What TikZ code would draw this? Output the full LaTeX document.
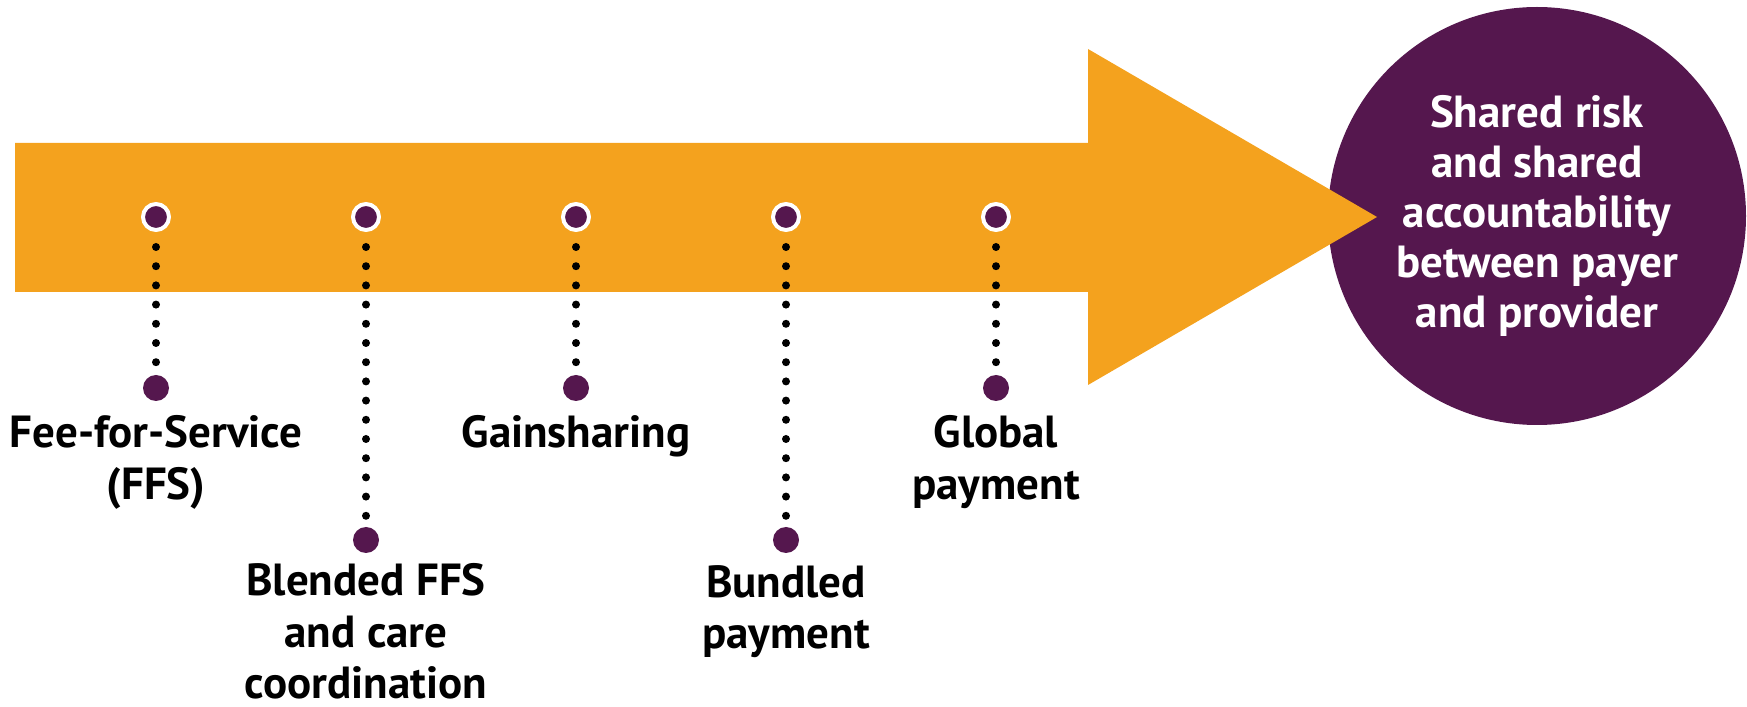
\documentclass[tikz,border=0pt]{standalone}
\usepackage{fontspec}
\setmainfont{PT Sans}
\usetikzlibrary{positioning}
\definecolor{arroworange}{RGB}{244,162,30}
\definecolor{plum}{RGB}{85,23,78}
\begin{document}
\begin{tikzpicture}[x=.1mm,y=-.1mm,line join=round,
  topdot/.style={circle,fill=plum,draw=white,line width=.4mm,minimum size=2.6mm,inner sep=0,outer sep=0},
  enddot/.style={circle,fill=plum,minimum size=2.6mm,inner sep=0,outer sep=0},
  dotline/.style={line width=.8mm,line cap=round,dash pattern=on 0pt off 1.92mm,shorten <=1.7mm,shorten >=1.1mm},
  steplabel/.style={align=center,inner sep=0,font=\bfseries\fontsize{12.8}{14.6}\selectfont}]
\useasboundingbox(0,0) rectangle (1747,707);
\node[circle,fill=plum,minimum size=41.8mm,inner sep=0,text=white,align=center,
  font=\bfseries\fontsize{12.8}{14.2}\selectfont] (goal) at (1537,216)
  {Shared risk\\and shared\\accountability\\between payer\\and provider};
\fill[arroworange](15,143)--(1088,143)--(1088,49)--(1377,217)--(1088,385)--(1088,292)--(15,292)--cycle;

\node[topdot] (t1) at (156,217) {};
\node[topdot] (t2) at (366,217) {};
\node[topdot] (t3) at (576,217) {};
\node[topdot] (t4) at (786,217) {};
\node[topdot] (t5) at (996,217) {};

\node[enddot] (b1) at (156,388) {};
\node[enddot] (b2) at (366,540) {};
\node[enddot] (b3) at (576,388) {};
\node[enddot] (b4) at (786,540) {};
\node[enddot] (b5) at (996,388) {};

\draw[dotline](t1)--(b1);
\draw[dotline](t2)--(b2);
\draw[dotline](t3)--(b3);
\draw[dotline](t4)--(b4);
\draw[dotline](t5)--(b5);

\node[steplabel,below=1.4mm of b1] (l1) {Fee-for-Service\\(FFS)};
\node[steplabel,below=1mm of b2] (l2) {Blended FFS\\and care\\coordination};
\node[steplabel,below=1.4mm of b3] (l3) {Gainsharing};
\node[steplabel,below=1.2mm of b4] (l4) {Bundled\\payment};
\node[steplabel,below=1.4mm of b5] (l5) {Global\\payment};
\end{tikzpicture}
\end{document}
